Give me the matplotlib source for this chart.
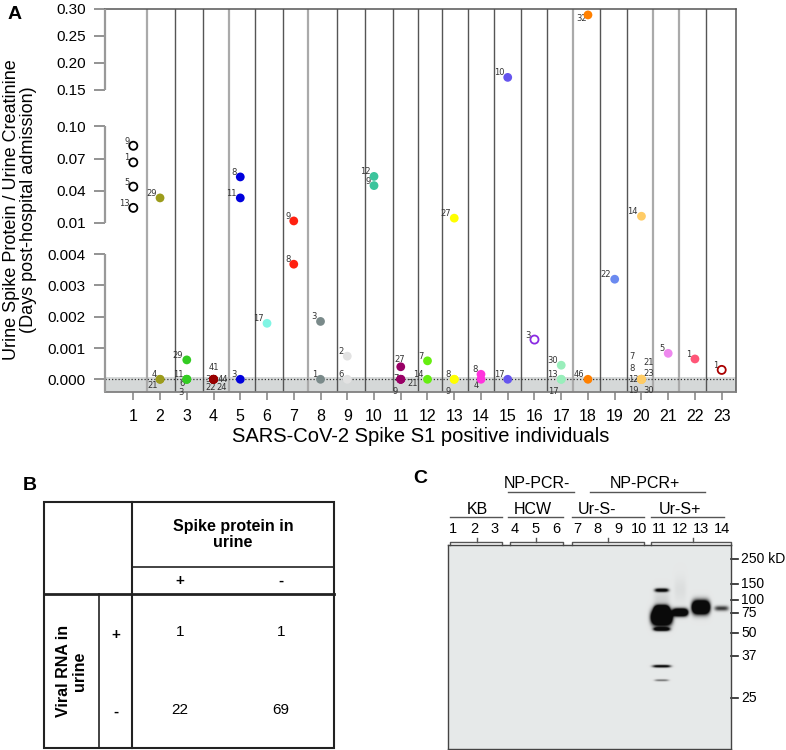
import numpy as np
import matplotlib
matplotlib.use('Agg')
import matplotlib.pyplot as plt

plt.rcParams['font.family'] = ['Liberation Sans', 'DejaVu Sans']

# ---------------- Panel A data ----------------
INDIVIDUALS = list(range(1, 24))
IND_COLORS = ['#000000', '#9c9c1c', '#33cc22', '#990000', '#0000dd', '#80f5e4',
              '#ff2010', '#7a8a8a', '#e2e2e2', '#3cc49c', '#990066', '#66ee11',
              '#ffff00', '#ff33dd', '#6655ee', '#8a2be2', '#99eebb', '#ff8000',
              '#6b8af0', '#ffcc66', '#ee88ee', '#ff5577', '#aa0000']
IND_OPEN = [True] + [False] * 14 + [True] + [False] * 6 + [True]

PT_IND = [1, 1, 1, 1, 2, 2, 2, 3, 3, 3, 3, 4, 4, 4, 4, 4, 5, 5, 5, 6, 7, 7, 8, 8,
          9, 9, 10, 10, 11, 11, 11, 11, 12, 12, 13, 13, 13, 14, 14, 15, 15, 16,
          17, 17, 17, 18, 18, 19, 20, 20, 20, 20, 20, 20, 20, 20, 21, 22, 23]
PT_VAL = [0.082, 0.0665, 0.0438, 0.024, 0.0333, 0, 0, 0.00062, 0, 0, 0, 0, 0, 0, 0, 0,
          0.0529, 0.0333, 0, 0.00179, 0.0118, 0.00368, 0.00185, 0, 0.00074, 0,
          0.0534, 0.0448, 0.0004, 0, 0, 0, 0.00059, 0, 0.0144, 0, 0, 0.00016, 0,
          0.173, 0, 0.00127, 0.00045, 0, 0, 0.289, 0, 0.0032, 0.0162, 0, 0, 0, 0,
          0, 0, 0, 0.00083, 0.00065, 0.0003]
PT_DAY = ['9', '1', '5', '13', '29', '4', '21', '29', '11', '6', '3', '41', '3', '44',
          '22', '24', '8', '11', '3', '17', '9', '8', '3', '1', '2', '6', '12', '9',
          '27', '7', '21', '9', '7', '14', '27', '8', '9', '8', '4', '10', '17', '3',
          '30', '13', '17', '32', '46', '22', '14', '7', '8', '12', '21', '23', '19',
          '30', '5', '1', '1']

Y_TICKS = [0, 0.001, 0.002, 0.003, 0.004, 0.01, 0.04, 0.07, 0.10, 0.15, 0.20, 0.25, 0.30]
Y_TICKLABELS = ['0.000', '0.001', '0.002', '0.003', '0.004', '0.01', '0.04', '0.07',
                '0.10', '0.15', '0.20', '0.25', '0.30']

# ---------------- Panel B data ----------------
ROW_LABELS = ['+', '-']
COL_LABELS = ['+', '-']
COUNTS = [[1, 1], [22, 69]]
ROW_TITLE = 'Viral RNA in\nurine'
COL_TITLE = 'Spike protein in\nurine'

# ---------------- Panel C data ----------------
LANES = list(range(1, 15))
GROUPS = ['KB', 'HCW', 'Ur-S-', 'Ur-S+']
SUPER_GROUPS = ['NP-PCR-', 'NP-PCR+']
MW_KDA = [250, 150, 100, 75, 50, 37, 25]
BAND_LANE = [11, 11, 11, 11, 11, 11, 11, 12, 12, 13, 14]
BAND_KDA = [126, 79, 68, 53.5, 33.5, 29.4, 100, 75, 128, 84, 82]
BAND_STRENGTH = [1.3, 3.0, 3.5, 1.6, 1.3, 0.55, 0.10, 2.6, 0.05, 3.2, 0.8]

# ================= layout / style =================
W, H = 786, 750
fig = plt.figure(figsize=(W / 100, H / 100), dpi=100)


def fx(px):
    return px / W


def fy(py):
    return 1 - py / H


# piecewise (broken) y scale
YV = [-1.0, 0.0, 0.004, 0.01, 0.10, 0.15, 0.30, 10.0]
YP = [-31000.0, 0.0, 125.0, 156.3, 252.6, 289.3, 370.0, 370.0 + 9.7 / 0.05 * 26.9]


def fwd(v):
    return np.interp(v, YV, YP)


def inv(p):
    return np.interp(p, YP, YV)


ax = fig.add_axes([fx(105), fy(392), fx(736) - fx(105), fy(9) - fy(392)])
ax.set_yscale('function', functions=(fwd, inv))
ybot = float(inv(-12.7))
ax.set_ylim(ybot, 0.30)
ax.set_xlim(-0.058, 23.535)

# grey band near zero and dotted zero line
ax.axhspan(ybot, 0.00008, color='#d5d8d8', zorder=0, lw=0)
ax.axhline(0, color='#333333', ls=(0, (1, 1.6)), lw=0.9, zorder=2)

# separators between individuals
SEP_X = [1.5, 2.56, 3.61, 4.57, 5.55, 6.61, 7.53, 8.6, 9.67, 10.71, 11.63, 12.53,
         13.52, 14.5, 15.48, 16.48, 17.44, 18.46, 19.47, 20.44, 21.41, 22.4]
SEP_LIGHT = {0, 3, 6, 16, 19, 20}
for k, sx in enumerate(SEP_X):
    if k in SEP_LIGHT:
        ax.axvline(sx, color='#aaaaaa', lw=1.6, zorder=1)
    else:
        ax.axvline(sx, color='#555555', lw=1.0, zorder=1)

# points
pi = np.array(PT_IND)
pv = np.array(PT_VAL, dtype=float)
pc = [IND_COLORS[i - 1] for i in PT_IND]
po = np.array([IND_OPEN[i - 1] for i in PT_IND])
filled = ~po
ax.scatter(pi[filled], pv[filled], s=40, c=[c for c, f in zip(pc, filled) if f],
           edgecolors='none', zorder=4)
ax.scatter(pi[po], pv[po], s=34, facecolors='white',
           edgecolors=[c for c, o in zip(pc, po) if o], linewidths=1.3, zorder=4)

# label placements (pixel offsets of label anchor from the point)
LBL_POS = ['ul', 'ul', 'ul', 'ul', 'ul', 'ul', 'll', 'ul', 'ul', 'l6', 'b3',
           'u', 'l', 'r', 'dl', 'dr', 'ul', 'ul', 'ul', 'ul', 'ul', 'ul', 'ul', 'ul',
           'ul', 'ul', 'ul', 'ul', 'u2', 'l2', 'lr', 'bl', 'ul', 'ul', 'ul', 'ul', 'bl',
           'ul', 'll', 'ul', 'ul', 'ul', 'ul', 'ul', 'bl', 'lb', 'ul', 'ul', 'ul',
           'c1', 'c2', 'c3', 'c4', 'c5', 'c6', 'c7', 'ul', 'ul', 'ul']
OFFS = {'ul': (-3.5, 4.5, 'right'), 'll': (-2.5, -6, 'right'), 'bl': (-3, -12, 'right'),
        'l6': (-2.5, -4.5, 'right'), 'b3': (-3, -13.5, 'right'),
        'l': (-3, 0, 'right'), 'l2': (-2, 1, 'right'), 'r': (4.5, 0, 'left'),
        'u': (0, 12, 'center'), 'u2': (-1, 7.5, 'center'), 'dl': (-3, -8, 'center'),
        'dr': (8.5, -8, 'center'), 'lr': (7, -4, 'left'), 'lb': (-1, -3.5, 'right'),
        'c1': (-9.8, 22.3, 'center'), 'c2': (-9.8, 10.6, 'center'),
        'c3': (-8.5, -0.7, 'center'), 'c4': (7, 16.6, 'center'),
        'c5': (7, 5.3, 'center'), 'c6': (-8.5, -11.4, 'center'),
        'c7': (7, -11.7, 'center')}
for i, v, d, code in zip(PT_IND, PT_VAL, PT_DAY, LBL_POS):
    dx, dy, ha = OFFS[code]
    ax.annotate(d, xy=(i, v), xytext=(dx, dy), textcoords='offset pixels',
                ha=ha, va='center', fontsize=6, family='DejaVu Sans',
                color='#333333', zorder=3)

# axes styling
ax.set_yticks(Y_TICKS)
ax.set_yticklabels(Y_TICKLABELS)
ax.yaxis.set_minor_locator(matplotlib.ticker.NullLocator())
ax.set_xticks(INDIVIDUALS)
ax.set_xticklabels([str(i) for i in INDIVIDUALS])
ax.tick_params(axis='y', direction='out', length=8, width=1.3, color='#8a8a8a',
               labelsize=11, pad=6)
ax.tick_params(axis='x', direction='out', length=6, width=1.2, color='#8a8a8a',
               labelsize=11.5, pad=6)
ax.spines['left'].set_visible(False)
ax.spines['top'].set_color('#555555')
ax.spines['right'].set_color('#555555')
ax.spines['bottom'].set_color('#808080')
for s in ('top', 'right'):
    ax.spines[s].set_linewidth(1.1)
ax.spines['bottom'].set_linewidth(1.3)
ytr = ax.get_yaxis_transform()
for a, b in [(0.15, 0.30), (0.01, 0.10), (ybot, 0.004)]:
    ax.plot([0, 0], [a, b], transform=ytr, color='#999999', lw=1.6, clip_on=False,
            zorder=5, solid_capstyle='butt')

fig.text(fx(20), fy(210), 'Urine Spike Protein / Urine Creatinine\n(Days post-hospital admission)',
         rotation=90, ha='center', va='center', fontsize=13, multialignment='center',
         linespacing=0.98)
fig.text(fx(420.5), fy(437), 'SARS-CoV-2 Spike S1 positive individuals',
         ha='center', va='center', fontsize=14.5)

# ---------------- overlay (panel letters + table B) ----------------
ov = fig.add_axes([0, 0, 1, 1])
ov.set_xlim(0, W)
ov.set_ylim(H, 0)
ov.axis('off')
ov.patch.set_visible(False)
for letter, (lx_, ly_) in zip('ABC', [(14.5, 19), (29.5, 490), (420.5, 483)]):
    ov.text(lx_, ly_, letter, fontsize=14, fontweight='bold', ha='center', va='baseline')

TX = [44, 99, 132, 228, 334]
TY = [502, 567, 594, 671, 748]
lc = '#222222'
ov.add_patch(plt.Rectangle((TX[0], TY[0]), TX[-1] - TX[0], TY[-1] - TY[0], fill=False,
                           ec=lc, lw=1.5))
ov.plot([TX[2], TX[2]], [TY[0], TY[-1]], color=lc, lw=1.5)
ov.plot([TX[2], TX[-1]], [TY[1], TY[1]], color=lc, lw=1.2)
ov.plot([TX[0], TX[-1]], [TY[2], TY[2]], color=lc, lw=2.0)
ov.plot([TX[1], TX[1]], [TY[2], TY[-1]], color=lc, lw=1.2)
ov.text((TX[2] + TX[-1]) / 2, (TY[0] + TY[1]) / 2, COL_TITLE, ha='center', va='center',
        fontsize=11.5, fontweight='bold', multialignment='center', linespacing=1.1)
ov.text((TX[0] + TX[1]) / 2, (TY[2] + TY[-1]) / 2, ROW_TITLE, ha='center', va='center',
        rotation=90, fontsize=11.5, fontweight='bold', multialignment='center',
        linespacing=1.1)
col_c = [(TX[2] + TX[3]) / 2, (TX[3] + TX[4]) / 2]
row_c = [(TY[2] + TY[3]) / 2, (TY[3] + TY[4]) / 2]
for cx, cl in zip(col_c, COL_LABELS):
    ov.text(cx, (TY[1] + TY[2]) / 2, cl, ha='center', va='center', fontsize=11,
            fontweight='bold')
for ry, rl in zip(row_c, ROW_LABELS):
    ov.text((TX[1] + TX[2]) / 2, ry + 2, rl, ha='center', va='center', fontsize=11,
            fontweight='bold')
for r, ry in enumerate(row_c):
    for c, cx in enumerate(col_c):
        ov.text(cx, ry, str(COUNTS[r][c]), ha='center', va='center', fontsize=11)

# ---------------- Panel C (western blot) ----------------
bx = fig.add_axes([fx(448), fy(749), fx(731) - fx(448), fy(545) - fy(749)])
XL = (0.75, 14.45)
bx.set_xlim(*XL)
bx.set_ylim(204, 0)
bx.set_xticks([])
bx.set_yticks([])
for s in bx.spines.values():
    s.set_color('#444444')
    s.set_linewidth(1.0)

MW_POS = [14, 39, 55, 68, 88, 111, 153]  # marker positions (px from blot top)
LANE_PX = 20.7


def mw_pos(kda):
    return np.interp(-np.log10(kda), -np.log10(MW_KDA), MW_POS)


BAND_HW = [7, 7, 10, 8, 9, 7, 8, 7.5, 6, 8.5, 7]
BAND_HH = [1.8, 4, 7, 1.8, 1.3, 1.0, 9, 3.5, 12, 6, 2.5]
gx = np.linspace(XL[0], XL[1], 850)
gy = np.linspace(0, 204, 612)
GX, GY = np.meshgrid(gx, gy)
dark = np.zeros_like(GX)
for ln, kda, st, hw, hh in zip(BAND_LANE, BAND_KDA, BAND_STRENGTH, BAND_HW, BAND_HH):
    lane_x = ln + (0.1 if ln == 11 else 0)
    dxn = (GX - lane_x) * LANE_PX / hw
    dyn = (GY - mw_pos(kda)) / hh
    dark += st * np.exp(-(dxn ** 4) - (dyn ** 2))
d = np.clip(dark, 0, 1)[..., None]
bg = np.array([0.905, 0.914, 0.914])
img = bg * (1 - d) + np.array([0.04, 0.04, 0.04]) * d
bx.imshow(img, extent=(XL[0], XL[1], 204, 0), aspect='auto', interpolation='bilinear',
          zorder=0)

# MW markers
for kda, pos in zip(MW_KDA, MW_POS):
    bx.plot([XL[1], XL[1] + 7 / LANE_PX], [pos, pos], color='#222222', lw=1.2,
            clip_on=False)
    lab = f'{kda} kD' if kda == 250 else str(kda)
    bx.text(XL[1] + 10 / LANE_PX, pos, lab, ha='left', va='center', fontsize=10,
            clip_on=False)

# lane numbers
for ln in LANES:
    bx.text(ln, -16, str(ln), ha='center', va='center', fontsize=10.5, clip_on=False)

# brackets and group labels
BRACKETS = [(0.85, 3.36, 2.14), (3.74, 6.31, 5.03), (6.74, 10.22, 8.48), (10.6, 14.47, 12.6)]
UNDER = [(0.85, 3.36), (3.65, 6.31), (6.74, 10.22), (10.6, 14.11)]
GCENT = [2.15, 4.86, 7.95, 11.96]
bc = '#555555'
for (a, b, m), (ua, ub), g, gc in zip(BRACKETS, UNDER, GROUPS, GCENT):
    bx.plot([a, a, b, b], [0, -3, -3, 0], color=bc, lw=1.0, clip_on=False)
    bx.plot([m, m], [-3, -7], color=bc, lw=1.0, clip_on=False)
    bx.plot([ua, ub], [-28, -28], color=bc, lw=1.0, clip_on=False)
    bx.text(gc, -36, g, ha='center', va='center', fontsize=11.5, clip_on=False)
SUPER_SPAN = [(3.65, 6.84), (7.61, 13.21)]
SUPER_CENT = [5.05, 10.27]
for (a, b), sg, sc in zip(SUPER_SPAN, SUPER_GROUPS, SUPER_CENT):
    bx.plot([a, b], [-53, -53], color=bc, lw=1.0, clip_on=False)
    bx.text(sc, -62, sg, ha='center', va='center', fontsize=11.5, clip_on=False)

fig.savefig('out.png', dpi=100)
